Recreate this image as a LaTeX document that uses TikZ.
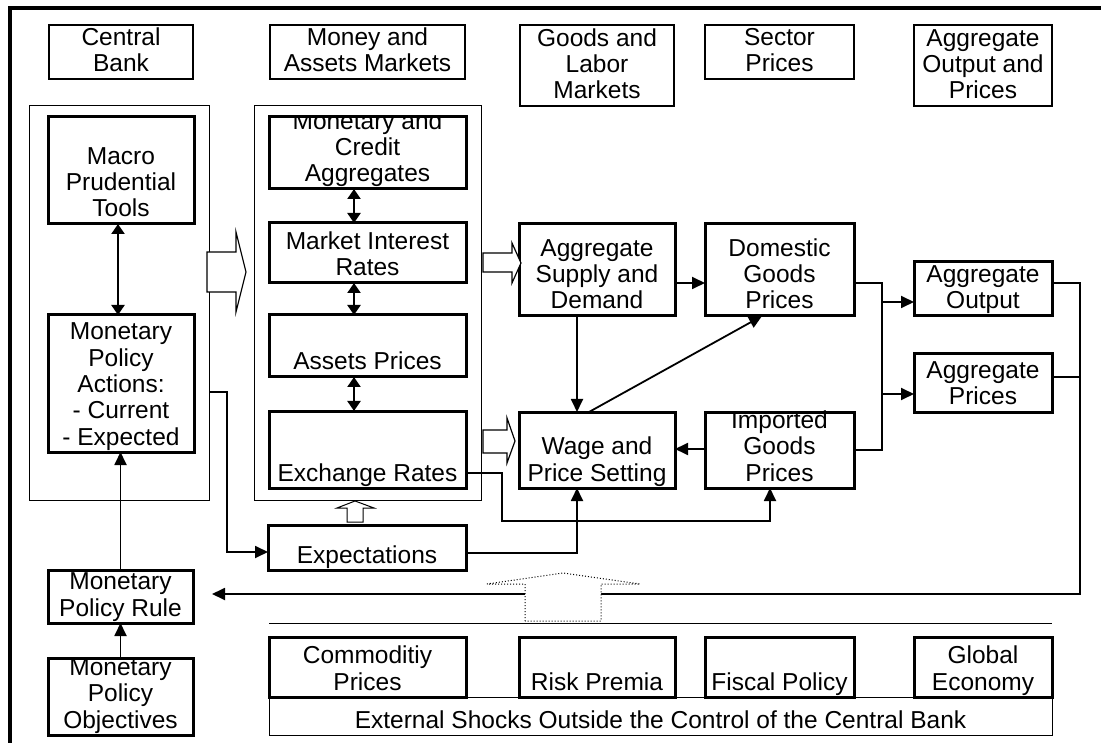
\documentclass[tikz,border=0pt]{standalone}
\usepackage{fontspec}
\setmainfont{Liberation Sans}
\usetikzlibrary{arrows.meta}

% zero-width strut fixing the depth of the last text line
\newcommand\lastdepth{\rule[-6pt]{0pt}{6pt}}
% \bx[style]{x1}{y1}{x2}{y2}{name}: rectangle node between two corners
\newcommand\bx[6][]{%
  \node[draw, inner sep=0pt, outer sep=0pt, #1,
        minimum width={#4-#2}, minimum height={#5-#3}]
        (#6) at ({(#2+#4)/2},{(#3+#5)/2}) {};}
% \bt{name}{text}: text set from the bottom of box <name>
\newcommand\bt[2]{\node[lbl] (#1-t) at ([yshift=1pt]#1.south) {#2\lastdepth};}

\tikzset{
  hdr/.style={line width=1.1pt},
  grp/.style={line width=1pt},
  thk/.style={line width=3pt},
  thn/.style={line width=1pt},
  lbl/.style={font=\fontsize{24.5}{26.3}\selectfont, align=center,
              inner sep=0pt, outer sep=0pt, anchor=south},
  conn/.style={line width=1.8pt},
  tip/.style={-{Triangle[length=13pt,width=12pt]}},
  dtip/.style={{Triangle[length=10pt,width=13pt]}-{Triangle[length=10pt,width=13pt]},
               line width=2.2pt},
  hollow/.style={draw, line width=1.2pt, fill=white, line join=miter},
  dots/.style={draw, line width=1pt, dotted, fill=white},
}

\begin{document}
\begin{tikzpicture}[x=1pt, y=-1pt]
\clip (0,0) rectangle (1101,743);
\fill[white] (0,0) rectangle (1101,743);

% outer frame
\draw[line width=3.5pt] (10,760) -- (10,8) -- (1110,8);

% column headers
\bx[hdr]{49}{25}{193}{79}{hcb}      \bt{hcb}{Central\\Bank}
\bx[hdr]{270}{25}{465}{79}{hmam}    \bt{hmam}{Money and\\Assets Markets}
\bx[hdr]{520}{25}{674}{106}{hglm}   \bt{hglm}{Goods and\\Labor\\Markets}
\bx[hdr]{705}{25}{854}{79}{hsp}     \bt{hsp}{Sector\\Prices}
\bx[hdr]{914}{25}{1052}{106}{haop}  \bt{haop}{Aggregate\\Output and\\Prices}

% group frames
\bx[grp]{29}{106}{209}{500}{gcb}
\bx[grp]{254}{106}{481}{500}{gma}

% central bank
\bx[thk]{48}{117}{194}{224}{mpt}    \bt{mpt}{Macro\\Prudential\\Tools}
\bx[thk]{48}{315}{194}{452}{mpa}    \bt{mpa}{Monetary\\Policy\\Actions:\\- Current\\- Expected}

% money and assets markets
\bx[thk]{269}{117}{466}{189}{mca}
\begin{scope}
  \clip (mca.south west) rectangle (mca.north east);
  \bt{mca}{Monetary and\\Credit\\Aggregates}
\end{scope}
\bx[thk]{269}{223}{466}{283}{mir}   \bt{mir}{Market Interest\\Rates}
\bx[thk]{269}{315}{466}{377}{ap}    \bt{ap}{Assets Prices}
\bx[thk]{269}{411}{466}{488}{er}    \bt{er}{Exchange Rates}

% goods and labor markets, sector prices
\bx[thk]{519}{224}{675}{316}{asd}   \bt{asd}{Aggregate\\Supply and\\Demand}
\bx[thk]{705}{224}{854}{316}{dgp}   \bt{dgp}{Domestic\\Goods\\Prices}
\bx[thk]{519}{412}{675}{488}{wps}   \bt{wps}{Wage and\\Price Setting}
\bx[thk]{705}{412}{854}{488}{igp}   \bt{igp}{Imported\\Goods\\Prices}

% aggregates
\bx[thk]{914}{262}{1052}{316}{ao}   \bt{ao}{Aggregate\\Output}
\bx[thk]{914}{354}{1052}{412}{apr}  \bt{apr}{Aggregate\\Prices}

% expectations and policy rule
\bx[thk]{268}{525}{466}{570}{exp}   \bt{exp}{Expectations}
\bx[thk]{48}{570}{193}{623}{mpr}    \bt{mpr}{Monetary\\Policy Rule}
\bx[thk]{48}{658}{193}{735}{mpo}    \bt{mpo}{Monetary\\Policy\\Objectives}

% external shocks
\coordinate (sepl) at (269,623);
\coordinate (sepr) at (1052,623);
\draw[thn] (sepl) -- (sepr);
\bx[thn]{269}{697}{1052}{735}{ext}  \bt{ext}{External Shocks Outside the Control of the Central Bank}
\bx[thk]{269}{637}{466}{697}{cp}    \bt{cp}{Commoditiy\\Prices}
\bx[thk]{519}{637}{675}{697}{rp}    \bt{rp}{Risk Premia}
\bx[thk]{705}{637}{854}{697}{fp}    \bt{fp}{Fiscal Policy}
\bx[thk]{914}{637}{1052}{697}{ge}   \bt{ge}{Global\\Economy}

% two-way links
\draw[dtip] ([xshift=-3pt]mpt.south) -- ([xshift=-3pt]mpa.north);
\draw[dtip] ([xshift=-13.5pt]mca.south) -- ([xshift=-13.5pt]mir.north);
\draw[dtip] ([xshift=-13.5pt]mir.south) -- ([xshift=-13.5pt]ap.north);
\draw[dtip] ([xshift=-13.5pt]ap.south) -- ([xshift=-13.5pt]er.north);

% transmission links
\draw[conn,tip] (asd.east |- 0,283) -- (dgp.west |- 0,283);
\draw[conn,tip] (asd.south -| 577,0) -- (wps.north -| 577,0);
\draw[conn,tip] (wps.north -| 589,0) -- (dgp.south -| 762,0);
\draw[conn,tip] (igp.west |- 0,449) -- (wps.east |- 0,449);

% sector prices to aggregates
\coordinate (jo) at (882,302);
\coordinate (jp) at (882,394);
\draw[conn] (dgp.east |- 0,283) -| (882,450) -- (igp.east |- 0,450);
\draw[conn,tip] (jo) -- (ao.west |- jo);
\draw[conn,tip] (jp) -- (apr.west |- jp);

% feedback to the policy rule
\coordinate (fb) at (1080,594);
\coordinate (mprin) at ([xshift=19pt]mpr.east |- fb);
\draw[conn,tip] (ao.east |- 0,283) -| (fb) -- (mprin);
\draw[conn] (apr.east |- 0,377) -- (fb |- 0,377);

% policy chain
\draw[conn,tip] (mpo.north) -- (mpr.south);
\draw[conn,tip] (mpr.north) -- (mpr.north |- mpa.south);

% expectations channel
\coordinate (ae) at (227,552);
\draw[conn,tip] (gcb.east |- 0,392) -| (ae) -- (exp.west |- ae);
\draw[conn,tip] (exp.east |- 0,553) -| (wps.south -| 577,0);

% exchange rate to imported prices
\coordinate (ei) at (502,521);
\draw[conn,tip] (er.east |- 0,473) -| (ei) -| (igp.south -| 770,0);

% broad arrows
\draw[hollow] (207,252) -- (236,252) -- (236,232) -- (246,272) -- (236,312)
  -- (236,292) -- (207,292) -- cycle;
\draw[hollow] (483,253) -- (512,253) -- (512,243) -- (521,263) -- (512,283)
  -- (512,272) -- (483,272) -- cycle;
\draw[hollow] (483,430) -- (507,430) -- (507,418) -- (515,441) -- (507,463)
  -- (507,453) -- (483,453) -- cycle;
\draw[hollow, line width=1pt] (347,522) -- (347,508) -- (337,508) -- (355,501)
  -- (374,508) -- (363,508) -- (363,522) -- cycle;
\draw[dots] (525,621) -- (525,584) -- (487,584) -- (563,573) -- (640,584)
  -- (601,584) -- (601,621) -- cycle;
\end{tikzpicture}
\end{document}
